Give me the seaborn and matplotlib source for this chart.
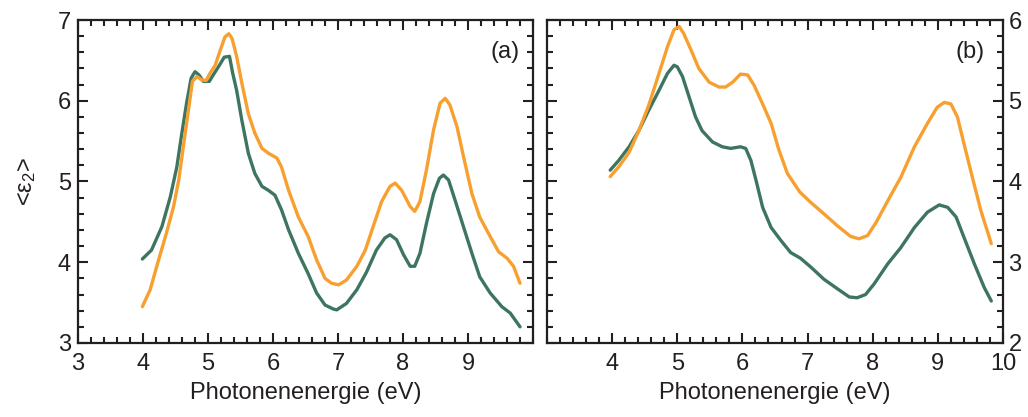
import numpy as np
import pandas as pd
import seaborn as sns
import matplotlib
matplotlib.use("Agg")
import matplotlib.pyplot as plt
from matplotlib.ticker import MultipleLocator

# Panel (a): dielectric function spectra
a_green_x = [3.99, 4.13, 4.29, 4.42, 4.52, 4.59, 4.67, 4.74, 4.80, 4.86, 4.93, 5.02,
             5.08, 5.16, 5.25, 5.33, 5.38, 5.44, 5.52, 5.62, 5.72, 5.83, 5.93, 6.03,
             6.13, 6.24, 6.39, 6.54, 6.67, 6.80, 6.93, 6.98, 7.13, 7.29, 7.44, 7.59,
             7.72, 7.80, 7.90, 8.01, 8.11, 8.18, 8.26, 8.36, 8.47, 8.56, 8.62, 8.70,
             8.80, 8.93, 9.06, 9.18, 9.34, 9.52, 9.65, 9.80]
a_green_y = [4.04, 4.15, 4.44, 4.81, 5.18, 5.56, 5.97, 6.28, 6.36, 6.32, 6.24, 6.24,
             6.32, 6.42, 6.54, 6.55, 6.34, 6.13, 5.76, 5.35, 5.10, 4.94, 4.89, 4.83,
             4.65, 4.40, 4.11, 3.86, 3.62, 3.47, 3.42, 3.41, 3.49, 3.66, 3.88, 4.15,
             4.30, 4.34, 4.28, 4.09, 3.95, 3.95, 4.11, 4.48, 4.85, 5.04, 5.08, 5.02,
             4.77, 4.44, 4.11, 3.82, 3.62, 3.45, 3.37, 3.20]

a_orange_x = [3.99, 4.11, 4.24, 4.36, 4.47, 4.55, 4.62, 4.70, 4.76, 4.83, 4.90, 4.97,
              5.03, 5.11, 5.19, 5.26, 5.32, 5.37, 5.44, 5.52, 5.62, 5.72, 5.83, 5.93,
              6.06, 6.13, 6.24, 6.39, 6.54, 6.67, 6.80, 6.90, 7.01, 7.13, 7.29, 7.42,
              7.54, 7.67, 7.80, 7.88, 7.98, 8.11, 8.18, 8.26, 8.36, 8.47, 8.57, 8.65,
              8.72, 8.83, 8.93, 9.06, 9.18, 9.34, 9.47, 9.60, 9.70, 9.80]
a_orange_y = [3.45, 3.66, 4.03, 4.36, 4.69, 5.02, 5.43, 5.89, 6.24, 6.30, 6.26, 6.25,
              6.34, 6.44, 6.63, 6.79, 6.83, 6.77, 6.55, 6.22, 5.84, 5.60, 5.41, 5.35,
              5.29, 5.18, 4.89, 4.56, 4.32, 4.03, 3.80, 3.74, 3.72, 3.78, 3.95, 4.15,
              4.44, 4.75, 4.94, 4.98, 4.89, 4.69, 4.63, 4.75, 5.14, 5.64, 5.97, 6.03,
              5.95, 5.68, 5.31, 4.85, 4.56, 4.32, 4.13, 4.05, 3.95, 3.74]

# Panel (b)
b_green_x = [3.97, 4.10, 4.26, 4.41, 4.56, 4.72, 4.85, 4.95, 5.00, 5.08, 5.18, 5.28,
             5.38, 5.54, 5.69, 5.82, 5.97, 6.05, 6.13, 6.21, 6.31, 6.44, 6.59, 6.74,
             6.89, 7.05, 7.25, 7.46, 7.64, 7.76, 7.89, 8.02, 8.23, 8.43, 8.64, 8.84,
             9.02, 9.15, 9.28, 9.40, 9.56, 9.71, 9.82]
b_green_y = [4.14, 4.26, 4.43, 4.63, 4.88, 5.13, 5.34, 5.44, 5.42, 5.30, 5.05, 4.80,
             4.63, 4.49, 4.43, 4.41, 4.43, 4.41, 4.26, 4.01, 3.68, 3.43, 3.27, 3.12,
             3.05, 2.94, 2.79, 2.67, 2.57, 2.56, 2.60, 2.73, 2.98, 3.18, 3.43, 3.62,
             3.71, 3.68, 3.56, 3.31, 2.98, 2.69, 2.52]

b_orange_x = [3.97, 4.10, 4.26, 4.41, 4.56, 4.72, 4.85, 4.95, 5.03, 5.10, 5.21, 5.33,
              5.49, 5.64, 5.74, 5.85, 5.97, 6.08, 6.18, 6.31, 6.44, 6.56, 6.69, 6.88,
              7.05, 7.25, 7.46, 7.66, 7.79, 7.92, 8.05, 8.23, 8.43, 8.64, 8.84, 8.99,
              9.10, 9.20, 9.30, 9.40, 9.53, 9.66, 9.82]
b_orange_y = [4.06, 4.18, 4.36, 4.63, 4.94, 5.34, 5.67, 5.88, 5.92, 5.83, 5.63, 5.40,
              5.23, 5.17, 5.17, 5.23, 5.33, 5.32, 5.19, 4.96, 4.72, 4.39, 4.10, 3.87,
              3.74, 3.60, 3.45, 3.32, 3.29, 3.33, 3.49, 3.76, 4.05, 4.43, 4.72, 4.92,
              4.98, 4.96, 4.80, 4.47, 4.05, 3.64, 3.23]

a_xticks = [3, 4, 5, 6, 7, 8, 9]
b_xticks = [4, 5, 6, 7, 8, 9, 10]
a_yticks = [3, 4, 5, 6, 7]
b_yticks = [2, 3, 4, 5, 6]

GREEN = "#3d7560"
ORANGE = "#f7a030"
INK = "#231f20"

sns.set_theme(style="ticks")
plt.rcParams["font.family"] = ["Liberation Sans", "DejaVu Sans"]
plt.rcParams["mathtext.fontset"] = "custom"
plt.rcParams["mathtext.rm"] = "Liberation Sans"
plt.rcParams["mathtext.it"] = "Liberation Sans"


def frame(xs, ys, name):
    return pd.DataFrame({"E": xs, "eps": ys, "series": name})


fig = plt.figure(figsize=(10.28, 4.17), dpi=100)
ax_a = fig.add_axes([0.0759, 0.1775, 0.4426, 0.7745])
ax_b = fig.add_axes([0.5321, 0.1775, 0.4436, 0.7745])

df_a = pd.concat([frame(a_green_x, a_green_y, "g"), frame(a_orange_x, a_orange_y, "o")])
df_b = pd.concat([frame(b_green_x, b_green_y, "g"), frame(b_orange_x, b_orange_y, "o")])
pal = {"g": GREEN, "o": ORANGE}

for ax, df in ((ax_a, df_a), (ax_b, df_b)):
    sns.lineplot(data=df, x="E", y="eps", hue="series", palette=pal, sort=False,
                 estimator=None, linewidth=2.4, legend=False, ax=ax)
    ax.set_xlim(3, 10)
    ax.xaxis.set_minor_locator(MultipleLocator(0.2))
    ax.yaxis.set_minor_locator(MultipleLocator(0.2))
    ax.tick_params(which="both", direction="in", top=True, right=True,
                   width=1.5, colors=INK, labelsize=17, labelcolor=INK)
    ax.tick_params(which="major", length=7)
    ax.tick_params(which="minor", length=4)
    ax.tick_params(axis="x", which="major", pad=7)
    ax.tick_params(axis="y", which="major", pad=5)
    for s in ax.spines.values():
        s.set_linewidth(1.6)
        s.set_color(INK)
    ax.set_xlabel("Photonenenergie (eV)", fontsize=17, color=INK, labelpad=5)

ax_a.set_ylim(3, 7)
ax_a.set_xticks(a_xticks)
ax_a.set_yticks(a_yticks)
ax_a.set_ylabel(r"<ε$_{2}$>", fontsize=17, color=INK, labelpad=14)
ax_a.text(0.97, 0.9, "(a)", transform=ax_a.transAxes, ha="right", va="center",
          fontsize=17, color=INK)

ax_b.set_ylim(2, 6)
ax_b.set_xticks(b_xticks)
ax_b.set_yticks(b_yticks)
ax_b.tick_params(axis="y", labelleft=False, labelright=True, pad=4)
ax_b.set_ylabel("")
ax_b.text(0.96, 0.9, "(b)", transform=ax_b.transAxes, ha="right", va="center",
          fontsize=17, color=INK)

fig.savefig("out.png", dpi=100)
